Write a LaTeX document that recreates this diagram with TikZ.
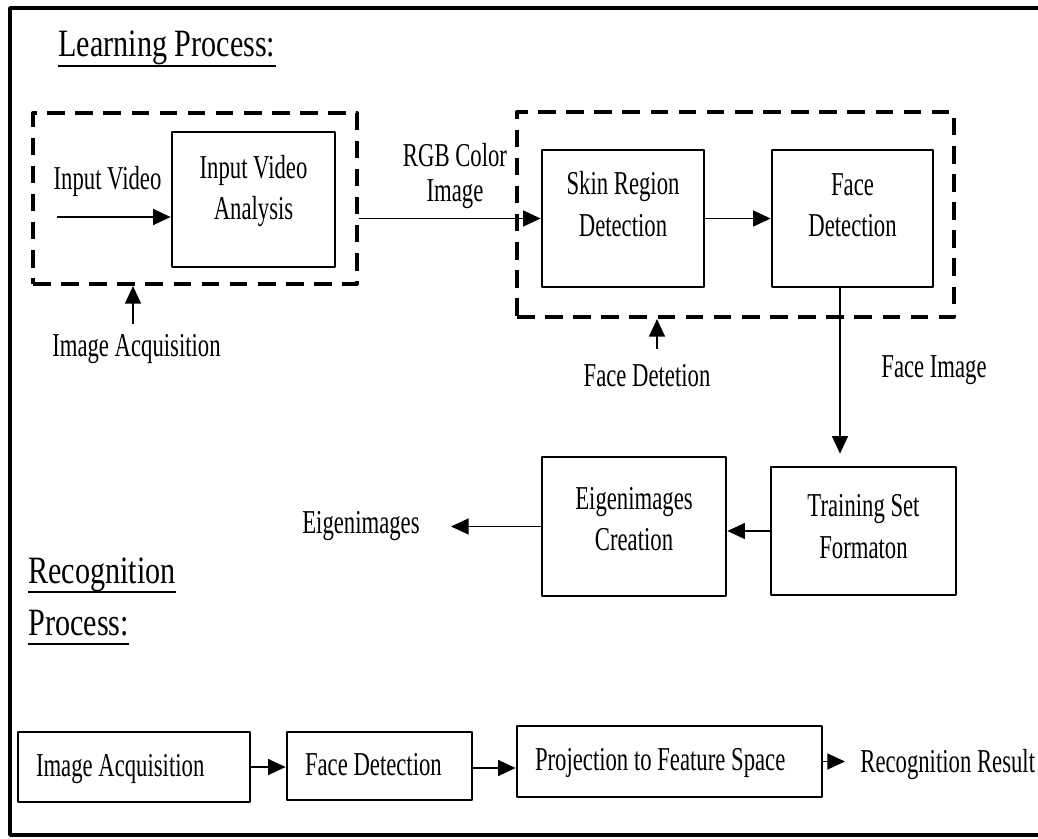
\documentclass[tikz,border=0pt]{standalone}
\usepackage{fontspec}
\usetikzlibrary{arrows.meta}
\newfontfamily\diafont[FakeStretch=0.68]{Liberation Serif}
\newfontfamily\headfont[FakeStretch=0.78]{Liberation Serif}
\begin{document}
\begin{tikzpicture}[line join=round,>={Triangle[length=10pt,width=9pt]},
	box/.style={draw,line width=1.5pt,align=center,inner sep=0pt,font=\diafont\fontsize{19}{23.8}\selectfont},
	rowbox/.style={box,align=flush left,inner xsep=0.36cm,text height=0.46cm,text depth=0.1cm},
	grp/.style={draw,line width=2.3pt,dash pattern=on 10pt off 6pt,inner sep=0pt},
	lbl/.style={inner sep=0pt,font=\diafont\fontsize{19}{23.8}\selectfont},
	head/.style={inner sep=0pt,text depth=0.18cm,font=\headfont\fontsize{22}{30}\selectfont},
	uline/.style={line width=1.3pt},
	link/.style={->,line width=1.1pt}]
	\useasboundingbox (0,0) rectangle (20.76,-16.78);
	\draw[line width=2pt] (20.76,-0.16) -- (0.2,-0.16) -- (0.2,-16.7) -- (20.76,-16.7);
	% learning process
	\node[head,anchor=base west] (learn) at (1.16,-1.14) {Learning Process:};
	\draw[uline] (learn.south west) -- (learn.south east);
	\node[grp,minimum width=6.48cm,minimum height=3.42cm] (acq) at (3.9,-3.97) {};
	\node[box,minimum width=3.26cm,minimum height=2.7cm,text depth=0.48cm] (iva) at (5.07,-3.99) {Input Video\\Analysis};
	\node[lbl,anchor=base] (vinlbl) at (2.15,-3.8) {Input Video};
	\coordinate (vin) at (1.14,-4.34);
	\node[lbl,anchor=base] (acqlbl) at (2.73,-7.12) {Image Acquisition};
	\node[lbl,align=center,font=\diafont\fontsize{19}{19.5}\selectfont] (rgblbl) at (9.1,-3.52) {RGB Color\\Image};
	\node[grp,minimum width=8.74cm,minimum height=4.1cm] (det) at (14.71,-4.29) {};
	\node[box,minimum width=3.24cm,minimum height=2.74cm,text depth=0.58cm] (skin) at (12.46,-4.37) {Skin Region\\Detection};
	\node[box,minimum width=3.22cm,minimum height=2.74cm,text depth=0.54cm] (face) at (17.05,-4.37) {Face\\Detection};
	\node[lbl,anchor=base] (fdlbl) at (12.94,-7.72) {Face Detetion};
	\node[lbl,anchor=base] (filbl) at (18.68,-7.54) {Face Image};
	\node[box,minimum width=3.7cm,minimum height=2.56cm,text depth=0.18cm] (train) at (17.27,-10.62) {Training Set\\Formaton};
	\node[box,minimum width=3.68cm,minimum height=2.78cm,text depth=0.3cm] (eigen) at (12.68,-10.53) {Eigenimages\\Creation};
	\node[lbl,anchor=base west] (eiglbl) at (6.04,-10.66) {Eigenimages};
	\draw[link] (vin) -- (vin -| iva.west);
	\draw[link,shorten <=0.2cm] ([xshift=-0.07cm]acqlbl.north) -- ([xshift=-0.07cm]acqlbl.north |- acq.south);
	\draw[link] (acq.east |- skin.west) -- (skin.west);
	\draw[link] (skin.east) -- (face.west);
	\draw[link,shorten <=0.3cm] ([xshift=0.2cm]fdlbl.north) -- ([xshift=0.2cm]fdlbl.north |- det.south);
	\draw[link,shorten >=0.24cm] ([xshift=-0.25cm]face.south) -- ([xshift=-0.25cm]face.south |- train.north);
	\draw[link] (train.west) -- (train.west -| eigen.east);
	\draw[link,shorten >=0.62cm] (eigen.west) -- (eigen.west -| eiglbl.east);
	% recognition process
	\node[head,anchor=base west] (rectitle) at (0.56,-11.66) {Recognition};
	\node[head,anchor=base west] (proctitle) at (0.56,-12.7) {Process:};
	\draw[uline] (rectitle.south west) -- (rectitle.south east);
	\draw[uline] (proctitle.south west) -- (proctitle.south east);
	\node[rowbox,text width=3.92cm,minimum height=1.4cm] (img) at (2.68,-15.34) {Image Acquisition};
	\node[rowbox,text width=2.98cm,minimum height=1.36cm] (fdet) at (7.59,-15.32) {Face Detection};
	\node[rowbox,text width=5.38cm,minimum height=1.42cm] (proj) at (13.39,-15.23) {Projection to Feature Space};
	\node[lbl,anchor=base west] (reslbl) at (17.2,-15.44) {Recognition Result};
	\draw[link] (img.east) -- (img.east -| fdet.west);
	\draw[link] ([yshift=-0.04cm]fdet.east) -- ([yshift=-0.04cm]fdet.east -| proj.west);
	\draw[link,shorten >=0.3cm] (proj.east) -- (proj.east -| reslbl.west);
\end{tikzpicture}
\end{document}
